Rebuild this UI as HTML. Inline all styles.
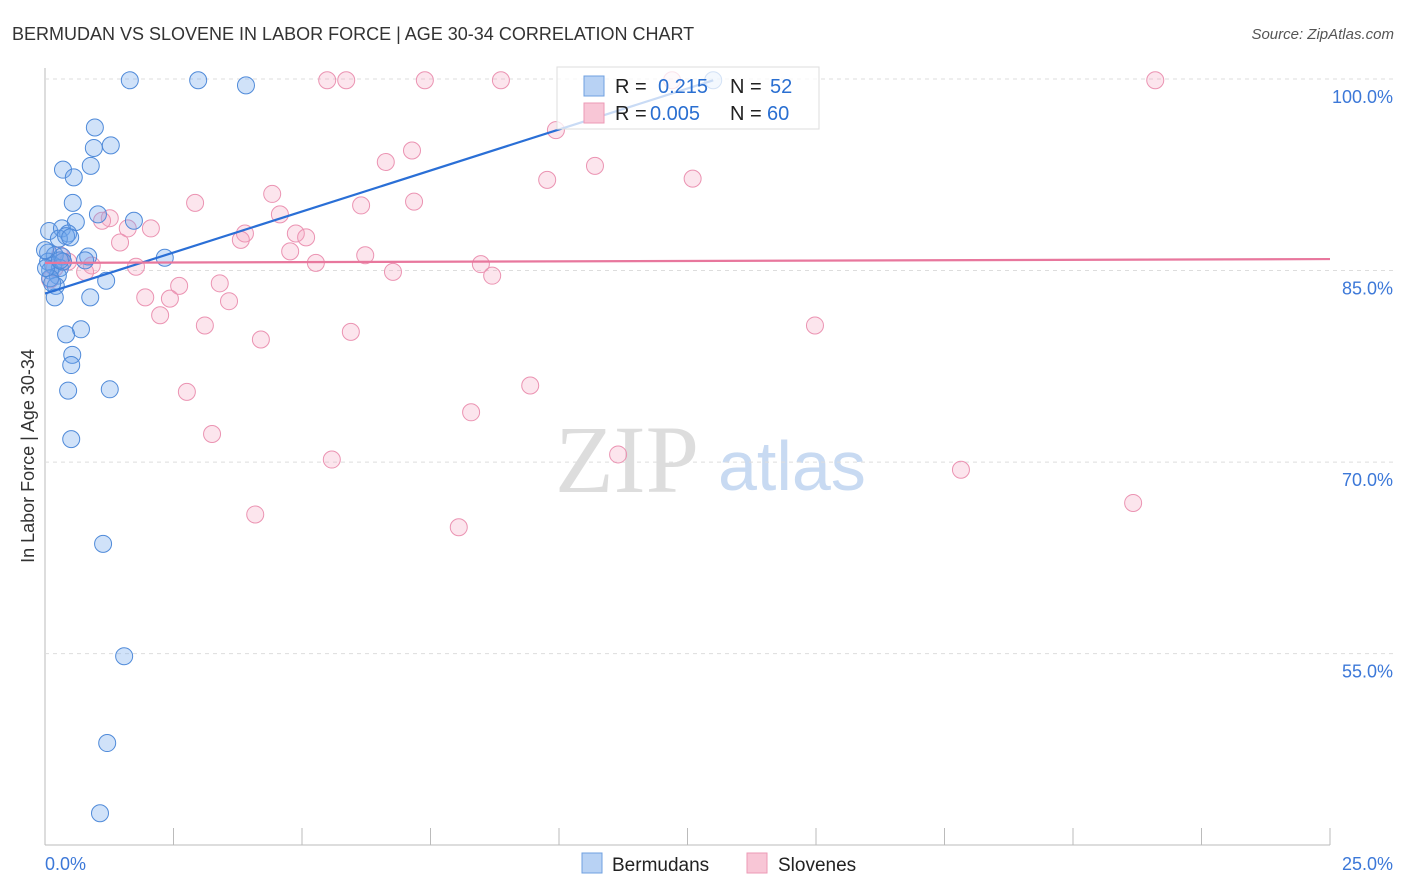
<!DOCTYPE html>
<html><head><meta charset="utf-8"><style>
body{margin:0;background:#fff;font-family:"Liberation Sans",sans-serif;}
#wrap{position:relative;width:1406px;height:892px;overflow:hidden;}
</style></head><body>
<div id="wrap">
<svg id="svg" width="1406" height="892" xmlns="http://www.w3.org/2000/svg">
<text x="12" y="40" font-size="18" fill="#333">BERMUDAN VS SLOVENE IN LABOR FORCE | AGE 30-34 CORRELATION CHART</text>
<text x="1394" y="39" font-size="15" fill="#555" text-anchor="end" font-style="italic">Source: ZipAtlas.com</text>
<text x="34" y="456" font-size="18" fill="#333" text-anchor="middle" transform="rotate(-90 34 456)">In Labor Force | Age 30-34</text>
<text x="555" y="492" font-size="96" fill="#ddd" font-family="Liberation Serif,serif">ZIP</text>
<text x="718" y="490" font-size="70" fill="#c8daf2">atlas</text>
<g id="grid"></g><g id="pts"></g><g id="lines"></g>
<g>
<rect x="557" y="67" width="262" height="62" fill="rgba(255,255,255,0.75)" stroke="#ddd"/>
<rect x="584" y="76" width="20" height="20" fill="#b8d2f4" stroke="#6fa0e0"/>
<rect x="584" y="103" width="20" height="20" fill="#f8c6d6" stroke="#ec9ab6"/>
<text y="93" font-size="20"><tspan x="615" fill="#222">R = </tspan><tspan x="658" fill="#2a6fd1">0.215</tspan><tspan x="730" fill="#222">N = </tspan><tspan x="770" fill="#2a6fd1">52</tspan></text>
<text y="120" font-size="20"><tspan x="615" fill="#222">R = </tspan><tspan x="650" fill="#2a6fd1">0.005</tspan><tspan x="730" fill="#222">N = </tspan><tspan x="767" fill="#2a6fd1">60</tspan></text>
</g>
<g>
<rect x="582" y="853" width="20" height="20" fill="#b8d2f4" stroke="#6fa0e0"/>
<text x="612" y="871" font-size="19" fill="#222">Bermudans</text>
<rect x="747" y="853" width="20" height="20" fill="#f8c6d6" stroke="#ec9ab6"/>
<text x="778" y="871" font-size="19" fill="#222">Slovenes</text>
</g>
</svg>
</div>
<script>
const xTicks=[0,2.5,5,7.5,10,12.5,15,17.5,20,22.5,25];
const yTicks=[100,85,70,55];
const yTickLabels=["100.0%","85.0%","70.0%","55.0%"];
const xEndLabels=["0.0%","25.0%"];
const bermX=[1.65,2.98,3.91,13.0,0.97,1.28,0.95,0.35,0.89,0.56,0.54,1.03,0.60,1.73,0.08,0.33,0.45,0.27,0.41,0.49,0.06,0.19,0.33,0.06,0.16,0.29,0.84,0.78,2.33,0.10,0.25,0.21,1.19,0.19,0.88,0.70,0.41,0.53,0.51,0.45,1.26,0.51,1.13,1.54,1.21,1.07,0.10,0.02,0.35,0.29,0.0,0.14];
const bermY=[99.9,99.9,99.5,99.9,96.2,94.8,94.6,92.9,93.2,92.3,90.3,89.4,88.8,88.9,88.1,88.3,87.9,87.5,87.7,87.6,86.4,86.2,86.1,85.7,85.4,85.2,86.1,85.8,86.0,85.0,84.6,83.8,84.2,82.9,82.9,80.4,80.0,78.4,77.6,75.6,75.7,71.8,63.6,54.8,48.0,42.5,84.4,85.2,85.7,85.8,86.6,84.0];
const sloX=[5.49,5.86,7.39,8.87,12.2,21.6,9.94,6.63,7.14,10.7,9.77,12.6,4.42,2.92,7.18,6.15,4.57,1.26,1.11,1.61,2.06,3.89,3.81,4.88,5.08,1.46,4.77,6.23,5.27,8.48,0.91,1.77,0.33,0.78,6.77,8.70,3.40,2.61,1.95,2.43,3.58,2.24,3.11,5.95,14.98,4.20,9.44,2.76,8.29,3.25,5.58,11.15,17.82,21.17,4.09,8.05,0.19,0.29,0.45,0.10];
const sloY=[99.9,99.9,99.9,99.9,99.9,99.9,96.0,93.5,94.4,93.2,92.1,92.2,91.0,90.3,90.4,90.1,89.4,89.1,88.9,88.3,88.3,87.9,87.4,87.9,87.6,87.2,86.5,86.2,85.6,85.5,85.4,85.3,85.7,84.9,84.9,84.6,84.0,83.8,82.9,82.8,82.6,81.5,80.7,80.2,80.7,79.6,76.0,75.5,73.9,72.2,70.2,70.6,69.4,66.8,65.9,64.9,85.2,86.2,85.7,84.3];
const bermTrend=[[0,83.2],[13.0,99.9]];
const sloTrend=[[0,85.6],[25,85.9]];
const NS="http://www.w3.org/2000/svg";
const sx=v=>45+v*51.4, sy=v=>79+(100-v)*12.77;
function mk(t,a,p){const e=document.createElementNS(NS,t);for(const k in a)e.setAttribute(k,a[k]);p.appendChild(e);return e;}
const grid=document.getElementById('grid'),pts=document.getElementById('pts'),lines=document.getElementById('lines');
let ax=mk('line',{x1:45,y1:68,x2:45,y2:845,stroke:'#bbb'},grid);


ax=mk('line',{x1:45,y1:845,x2:1330,y2:845,stroke:'#bbb'},grid);


yTicks.forEach((v,i)=>{
 const g=mk('line',{x1:45,x2:1394,y1:sy(v),y2:sy(v),stroke:'#ddd','stroke-dasharray':'4 4'},grid);
 
 
 const t=mk('text',{x:1393,y:sy(v)+24,'font-size':18,fill:'#3c78d8','text-anchor':'end'},grid);t.textContent=yTickLabels[i];
 
 
});
xTicks.forEach((v,i)=>{if(i===0)return;
 const l=mk('line',{x1:sx(v),x2:sx(v),y1:828,y2:845,stroke:'#bbb'},grid);
 
 
});
[[0,'start'],[25,'end']].forEach((d,i)=>{
 const t=mk('text',{x:sx(d[0])+(i?63:0),y:870,'font-size':18,fill:'#3c78d8','text-anchor':d[1]},grid);t.textContent=xEndLabels[i];
 
 
});
sloX.forEach((x,i)=>{const c=mk('circle',{cx:sx(x),cy:sy(sloY[i]),r:8.5,fill:'rgba(244,160,190,0.28)',stroke:'#eb93b2','stroke-width':1},pts);
 
 });
bermX.forEach((x,i)=>{const c=mk('circle',{cx:sx(x),cy:sy(bermY[i]),r:8.5,fill:'rgba(110,165,235,0.32)',stroke:'#4f8ad9','stroke-width':1},pts);
 
 });
let tl=mk('line',{x1:sx(bermTrend[0][0]),y1:sy(bermTrend[0][1]),x2:sx(bermTrend[1][0]),y2:sy(bermTrend[1][1]),stroke:'#2a6fd6','stroke-width':2.2},lines);


tl=mk('line',{x1:sx(sloTrend[0][0]),y1:sy(sloTrend[0][1]),x2:sx(sloTrend[1][0]),y2:sy(sloTrend[1][1]),stroke:'#e8779d','stroke-width':2.2},lines);


</script>
</body></html>
